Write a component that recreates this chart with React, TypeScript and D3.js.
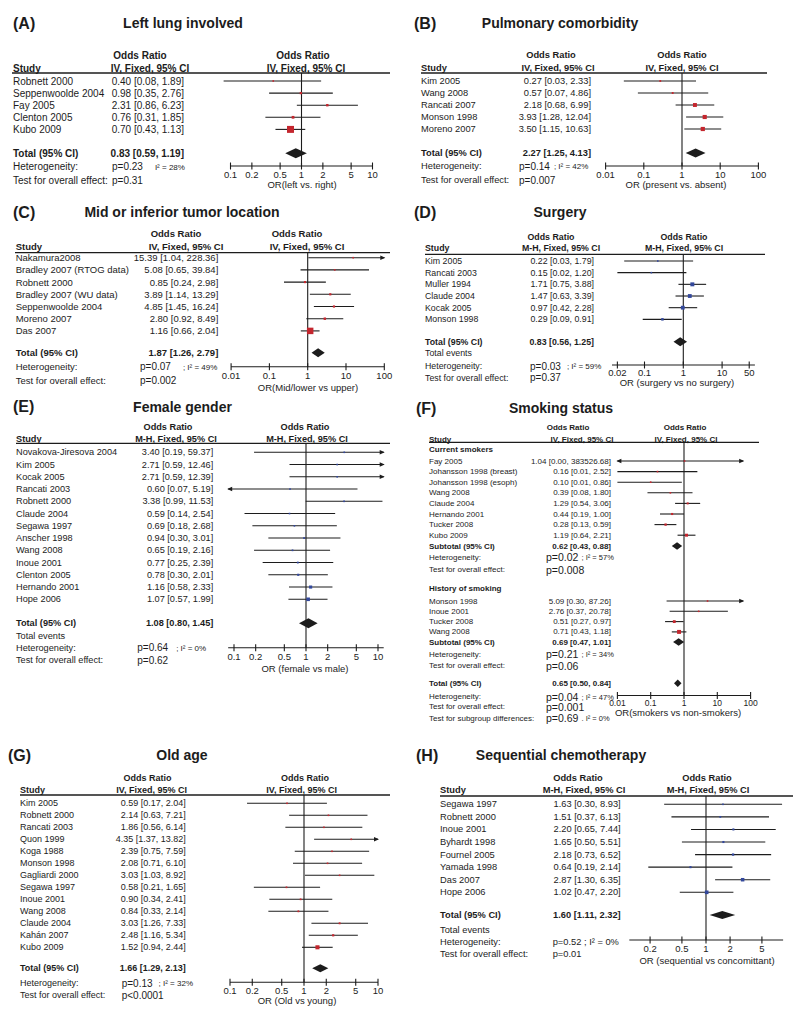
import React from "react";
import * as d3 from "d3";

const FONT = "'Liberation Sans', Arial, Helvetica, sans-serif";
const INK = "#1c1c1c";
const RED = "#c4262e";
const BLUE = "#33489c";

// ---------------- DATA ----------------
// (A) Left lung involved
const studiesA = ["Robnett 2000", "Seppenwoolde 2004", "Fay 2005", "Clenton 2005", "Kubo 2009"];
const orA = [0.4, 0.98, 2.31, 0.76, 0.7];
const loA = [0.08, 0.35, 0.86, 0.31, 0.43];
const hiA = [1.89, 2.76, 6.23, 1.85, 1.13];
const totalA = [0.83, 0.59, 1.19];
const hetA = ["p=0.23", "I\u00b2 = 28%"];
const testA = "p=0.31";
const ticksA = [0.1, 0.2, 0.5, 1, 2, 5, 10];

// (B) Pulmonary comorbidity
const studiesB = ["Kim 2005", "Wang 2008", "Rancati 2007", "Monson 1998", "Moreno 2007"];
const orB = [0.27, 0.57, 2.18, 3.93, 3.5];
const loB = [0.03, 0.07, 0.68, 1.28, 1.15];
const hiB = [2.33, 4.86, 6.99, 12.04, 10.63];
const totalB = [2.27, 1.25, 4.13];
const hetB = ["p=0.14", "; I\u00b2 = 42%"];
const testB = "p=0.007";
const ticksB = [0.01, 0.1, 1, 10, 100];

// (C) Mid or inferior tumor location
const studiesC = ["Nakamura2008", "Bradley 2007 (RTOG data)", "Robnett 2000", "Bradley 2007 (WU data)", "Seppenwoolde 2004", "Moreno 2007", "Das 2007"];
const orC = [15.39, 5.08, 0.85, 3.89, 4.85, 2.8, 1.16];
const loC = [1.04, 0.65, 0.24, 1.14, 1.45, 0.92, 0.66];
const hiC = [228.36, 39.84, 2.98, 13.29, 16.24, 8.49, 2.04];
const totalC = [1.87, 1.26, 2.79];
const hetC = ["p=0.07", "; I\u00b2 = 49%"];
const testC = "p=0.002";
const ticksC = [0.01, 0.1, 1, 10, 100];

// (D) Surgery
const studiesD = ["Kim 2005", "Rancati 2003", "Muller 1994", "Claude 2004", "Kocak 2005", "Monson 1998"];
const orD = [0.22, 0.15, 1.71, 1.47, 0.97, 0.29];
const loD = [0.03, 0.02, 0.75, 0.63, 0.42, 0.09];
const hiD = [1.79, 1.2, 3.88, 3.39, 2.28, 0.91];
const totalD = [0.83, 0.56, 1.25];
const hetD = ["p=0.03", "; I\u00b2 = 59%"];
const testD = "p=0.37";
const ticksD = [0.02, 0.1, 1, 10, 50];

// (E) Female gender
const studiesE = ["Novakova-Jiresova 2004", "Kim 2005", "Kocak 2005", "Rancati 2003", "Robnett 2000", "Claude 2004", "Segawa 1997", "Anscher 1998", "Wang 2008", "Inoue 2001", "Clenton 2005", "Hernando 2001", "Hope 2006"];
const orE = [3.4, 2.71, 2.71, 0.6, 3.38, 0.59, 0.69, 0.94, 0.65, 0.77, 0.78, 1.16, 1.07];
const loE = [0.19, 0.59, 0.59, 0.07, 0.99, 0.14, 0.18, 0.3, 0.19, 0.25, 0.3, 0.58, 0.57];
const hiE = [59.37, 12.46, 12.39, 5.19, 11.53, 2.54, 2.68, 3.01, 2.16, 2.39, 2.01, 2.33, 1.99];
const totalE = [1.08, 0.8, 1.45];
const hetE = ["p=0.64", "; I\u00b2 = 0%"];
const testE = "p=0.62";
const ticksE = [0.1, 0.2, 0.5, 1, 2, 5, 10];

// (F) Smoking status
const studiesF1 = ["Fay 2005", "Johansson 1998 (breast)", "Johansson 1998 (esoph)", "Wang 2008", "Claude 2004", "Hernando 2001", "Tucker 2008", "Kubo 2009"];
const orF1 = [1.04, 0.16, 0.1, 0.39, 1.29, 0.44, 0.28, 1.19];
const loF1 = [0.0, 0.01, 0.01, 0.08, 0.54, 0.19, 0.13, 0.64];
const hiF1 = [383526.68, 2.52, 0.86, 1.8, 3.06, 1.0, 0.59, 2.21];
const subF1 = [0.62, 0.43, 0.88];
const hetF1 = ["p=0.02", " ; I\u00b2 = 57%"];
const testF1 = "p=0.008";
const studiesF2 = ["Monson 1998", "Inoue 2001", "Tucker 2008", "Wang 2008"];
const orF2 = [5.09, 2.76, 0.51, 0.71];
const loF2 = [0.3, 0.37, 0.27, 0.43];
const hiF2 = [87.26, 20.78, 0.97, 1.18];
const subF2 = [0.69, 0.47, 1.01];
const hetF2 = ["p=0.21", " ; I\u00b2 = 34%"];
const testF2 = "p=0.06";
const totalF = [0.65, 0.5, 0.84];
const hetF = ["p=0.04", " ; I\u00b2 = 47%"];
const testF = "p=0.001";
const subgroupF = ["p=0.69", " . I\u00b2 = 0%"];
const ticksF = [0.01, 0.1, 1, 10, 100];

// (G) Old age
const studiesG = ["Kim 2005", "Robnett 2000", "Rancati 2003", "Quon 1999", "Koga 1988", "Monson 1998", "Gagliardi 2000", "Segawa 1997", "Inoue 2001", "Wang 2008", "Claude 2004", "Kah\u00e1n 2007", "Kubo 2009"];
const orG = [0.59, 2.14, 1.86, 4.35, 2.39, 2.08, 3.03, 0.58, 0.9, 0.84, 3.03, 2.48, 1.52];
const loG = [0.17, 0.63, 0.56, 1.37, 0.75, 0.71, 1.03, 0.21, 0.34, 0.33, 1.26, 1.16, 0.94];
const hiG = [2.04, 7.21, 6.14, 13.82, 7.59, 6.1, 8.92, 1.65, 2.41, 2.14, 7.33, 5.34, 2.44];
const totalG = [1.66, 1.29, 2.13];
const hetG = ["p=0.13", "; I\u00b2 = 32%"];
const testG = "p<0.0001";
const ticksG = [0.1, 0.2, 0.5, 1, 2, 5, 10];

// (H) Sequential chemotherapy
const studiesH = ["Segawa 1997", "Robnett 2000", "Inoue 2001", "Byhardt 1998", "Fournel 2005", "Yamada 1998", "Das 2007", "Hope 2006"];
const orH = [1.63, 1.51, 2.2, 1.65, 2.18, 0.64, 2.87, 1.02];
const loH = [0.3, 0.37, 0.65, 0.5, 0.73, 0.19, 1.3, 0.47];
const hiH = [8.93, 6.13, 7.44, 5.51, 6.52, 2.14, 6.35, 2.2];
const totalH = [1.6, 1.11, 2.32];
const hetH = ["p=0.52", " ; I\u00b2 = 0%"];
const testH = "p=0.01";
const ticksH = [0.2, 0.5, 1, 2, 5];

// ---------------- TYPES / BUILDERS ----------------
type Study = { name: string; or: number; lo: number; hi: number };
type Item =
  | { k: "study"; s: Study; y: number }
  | { k: "head"; text: string; y: number }
  | { k: "pool"; label: string; est: number[]; y: number }
  | { k: "stat"; label: string; p: string; i2?: string; y: number }
  | { k: "text"; text: string; y: number };

function zip(names: string[], or: number[], lo: number[], hi: number[]): Study[] {
  return names.map((n, i) => ({ name: n, or: or[i], lo: lo[i], hi: hi[i] }));
}

function standardItems(
  studies: Study[],
  total: number[],
  het: string[],
  test: string,
  L: { y0: number; dy: number; totalY: number; eventsY?: number; hetY: number; testY: number }
): Item[] {
  const ys = d3.scaleLinear().domain([0, 1]).range([L.y0, L.y0 + L.dy]);
  const items: Item[] = studies.map((s, i) => ({ k: "study", s, y: ys(i) } as Item));
  items.push({ k: "pool", label: "Total (95% CI)", est: total, y: L.totalY });
  if (L.eventsY) items.push({ k: "text", text: "Total events", y: L.eventsY });
  items.push({ k: "stat", label: "Heterogeneity:", p: het[0], i2: het[1], y: L.hetY });
  items.push({ k: "stat", label: "Test for overall effect:", p: test, y: L.testY });
  return items;
}

function smokingItems(): Item[] {
  const ys1 = d3.scaleLinear().domain([0, 1]).range([461, 471.6]);
  const ys2 = d3.scaleLinear().domain([0, 1]).range([601, 611.3]);
  const items: Item[] = [];
  items.push({ k: "head", text: "Current smokers", y: 449.3 });
  zip(studiesF1, orF1, loF1, hiF1).forEach((s, i) => items.push({ k: "study", s, y: ys1(i) }));
  items.push({ k: "pool", label: "Subtotal (95% CI)", est: subF1, y: 546 });
  items.push({ k: "stat", label: "Heterogeneity:", p: hetF1[0], i2: hetF1[1], y: 557.3 });
  items.push({ k: "stat", label: "Test for overall effect:", p: testF1, y: 569.5 });
  items.push({ k: "head", text: "History of smoking", y: 588.3 });
  zip(studiesF2, orF2, loF2, hiF2).forEach((s, i) => items.push({ k: "study", s, y: ys2(i) }));
  items.push({ k: "pool", label: "Subtotal (95% CI)", est: subF2, y: 642 });
  items.push({ k: "stat", label: "Heterogeneity:", p: hetF2[0], i2: hetF2[1], y: 654 });
  items.push({ k: "stat", label: "Test for overall effect:", p: testF2, y: 665.7 });
  items.push({ k: "pool", label: "Total (95% CI)", est: totalF, y: 683.3 });
  items.push({ k: "stat", label: "Heterogeneity:", p: hetF[0], i2: hetF[1], y: 696.5 });
  items.push({ k: "stat", label: "Test for overall effect:", p: testF, y: 706.7 });
  items.push({ k: "stat", label: "Test for subgroup differences:", p: subgroupF[0], i2: subgroupF[1], y: 718.3 });
  return items;
}

type Axis = {
  center: number; decade: number; lineMin: number; lineMax: number; clipMin: number; clipMax: number;
  y: number; ticks: number[]; tickY: number; tickFs: number; label: string; labelX: number; labelY: number;
};
type Cfg = {
  tag: string; tagX: number; title: string; titleX: number; titleY: number;
  fs: number; pfs: number; ifs: number; i2dx: number; method: string;
  hdrY1: number; hdrY2: number; c2h1: number; c2h2: number; c3h1: number; c3h2: number;
  lineY: number; lineX1: number; lineX2: number; col1X: number; col2R: number; pX: number;
  dh: number; color: string; axis: Axis; items: Item[];
};

const fmt = (v: number) => v.toFixed(2);
const ciText = (a: number, b: number, c: number) => `${fmt(a)} [${fmt(b)}, ${fmt(c)}]`;

const panels: Cfg[] = [
  {
    tag: "(A)", tagX: 13, title: "Left lung involved", titleX: 183, titleY: 23,
    fs: 10, pfs: 10, ifs: 8, i2dx: 12, method: "IV, Fixed, 95% CI",
    hdrY1: 55, hdrY2: 68, c2h1: 140, c2h2: 150, c3h1: 303, c3h2: 306,
    lineY: 73, lineX1: 12, lineX2: 390, col1X: 13, col2R: 184, pX: 112, dh: 5, color: RED,
    axis: { center: 301.5, decade: 71, lineMin: 0.1, lineMax: 10, clipMin: 0.06, clipMax: 12, y: 166, ticks: ticksA, tickY: 174.5, tickFs: 9.5, label: "OR(left vs. right)", labelX: 302, labelY: 184 },
    items: standardItems(zip(studiesA, orA, loA, hiA), totalA, hetA, testA, { y0: 81, dy: 12.1, totalY: 153.3, hetY: 166.7, testY: 180 }),
  },
  {
    tag: "(B)", tagX: 414, title: "Pulmonary comorbidity", titleX: 560, titleY: 23,
    fs: 9.3, pfs: 10, ifs: 8, i2dx: 4, method: "IV, Fixed, 95% CI",
    hdrY1: 55, hdrY2: 68, c2h1: 551, c2h2: 558, c3h1: 682, c3h2: 682,
    lineY: 73, lineX1: 421, lineX2: 767, col1X: 421, col2R: 591, pX: 519, dh: 4.5, color: RED,
    axis: { center: 682, decade: 38.2, lineMin: 0.01, lineMax: 100, clipMin: 0.01, clipMax: 100, y: 166, ticks: ticksB, tickY: 174, tickFs: 9.5, label: "OR (present vs. absent)", labelX: 676, labelY: 184 },
    items: standardItems(zip(studiesB, orB, loB, hiB), totalB, hetB, testB, { y0: 81, dy: 12, totalY: 153, hetY: 166, testY: 180 }),
  },
  {
    tag: "(C)", tagX: 13, title: "Mid or inferior tumor location", titleX: 182, titleY: 212,
    fs: 9.5, pfs: 10, ifs: 8, i2dx: 12, method: "IV, Fixed, 95% CI",
    hdrY1: 233.3, hdrY2: 246.7, c2h1: 176, c2h2: 186, c3h1: 297, c3h2: 307,
    lineY: 252.7, lineX1: 15, lineX2: 390, col1X: 15.7, col2R: 218.3, pX: 140, dh: 4.5, color: RED,
    axis: { center: 307.7, decade: 38.3, lineMin: 0.01, lineMax: 100, clipMin: 0.01, clipMax: 100, y: 366.7, ticks: ticksC, tickY: 375, tickFs: 9.5, label: "OR(Mid/lower vs upper)", labelX: 308, labelY: 387 },
    items: standardItems(zip(studiesC, orC, loC, hiC), totalC, hetC, testC, { y0: 257.7, dy: 12.2, totalY: 352.7, hetY: 366.7, testY: 380 }),
  },
  {
    tag: "(D)", tagX: 414, title: "Surgery", titleX: 560, titleY: 212,
    fs: 8.8, pfs: 10, ifs: 8, i2dx: 6, method: "M-H, Fixed, 95% CI",
    hdrY1: 236.7, hdrY2: 248.3, c2h1: 551, c2h2: 561, c3h1: 684, c3h2: 684,
    lineY: 254.3, lineX1: 425, lineX2: 765, col1X: 425, col2R: 594, pX: 530, dh: 4.5, color: BLUE,
    axis: { center: 683.3, decade: 38.8, lineMin: 0.0145, lineMax: 70, clipMin: 0.0145, clipMax: 70, y: 365, ticks: ticksD, tickY: 372, tickFs: 9.5, label: "OR (surgery vs no surgery)", labelX: 677, labelY: 382 },
    items: standardItems(zip(studiesD, orD, loD, hiD), totalD, hetD, testD, { y0: 261, dy: 11.67, totalY: 341.7, eventsY: 353.3, hetY: 366, testY: 377.7 }),
  },
  {
    tag: "(E)", tagX: 13, title: "Female gender", titleX: 182.5, titleY: 406.7,
    fs: 9.2, pfs: 10, ifs: 8, i2dx: 8, method: "M-H, Fixed, 95% CI",
    hdrY1: 426.7, hdrY2: 439, c2h1: 168, c2h2: 176, c3h1: 305, c3h2: 307,
    lineY: 443.3, lineX1: 16, lineX2: 390, col1X: 16, col2R: 213.3, pX: 137.3, dh: 5, color: BLUE,
    axis: { center: 306, decade: 72, lineMin: 0.083, lineMax: 12, clipMin: 0.083, clipMax: 12, y: 647.7, ticks: ticksE, tickY: 656, tickFs: 9.5, label: "OR (female vs male)", labelX: 305, labelY: 668 },
    items: standardItems(zip(studiesE, orE, loE, hiE), totalE, hetE, testE, { y0: 452.3, dy: 12.25, totalY: 623.3, eventsY: 635.7, hetY: 647.7, testY: 660 }),
  },
  {
    tag: "(F)", tagX: 416, title: "Smoking status", titleX: 561, titleY: 408.3,
    fs: 8, pfs: 10.5, ifs: 7.5, i2dx: 1, method: "IV, Fixed, 95% CI",
    hdrY1: 427.7, hdrY2: 439, c2h1: 568, c2h2: 582, c3h1: 685, c3h2: 686,
    lineY: 442.3, lineX1: 429, lineX2: 759, col1X: 429, col2R: 611, pX: 546, dh: 3.8, color: RED,
    axis: { center: 684, decade: 33.3, lineMin: 0.01, lineMax: 100, clipMin: 0.01, clipMax: 60, y: 695.5, ticks: ticksF, tickY: 702.5, tickFs: 8.5, label: "OR(smokers vs non-smokers)", labelX: 678, labelY: 712 },
    items: smokingItems(),
  },
  {
    tag: "(G)", tagX: 8, title: "Old age", titleX: 182, titleY: 755,
    fs: 9, pfs: 10, ifs: 8, i2dx: 6, method: "IV, Fixed, 95% CI",
    hdrY1: 778.3, hdrY2: 790, c2h1: 147.5, c2h2: 151.7, c3h1: 305, c3h2: 301.7,
    lineY: 795, lineX1: 20, lineX2: 390, col1X: 20, col2R: 185.7, pX: 121.7, dh: 4, color: RED,
    axis: { center: 304, decade: 74, lineMin: 0.1, lineMax: 10, clipMin: 0.1, clipMax: 10, y: 982.3, ticks: ticksG, tickY: 990, tickFs: 9.5, label: "OR (Old vs young)", labelX: 297, labelY: 1000 },
    items: standardItems(zip(studiesG, orG, loG, hiG), totalG, hetG, testG, { y0: 803.3, dy: 12, totalY: 968.3, hetY: 983.3, testY: 995 }),
  },
  {
    tag: "(H)", tagX: 416, title: "Sequential chemotherapy", titleX: 561, titleY: 755,
    fs: 9.3, pfs: 9.3, ifs: 9.3, i2dx: 0, method: "M-H, Fixed, 95% CI",
    hdrY1: 778.3, hdrY2: 790, c2h1: 578, c2h2: 584, c3h1: 707, c3h2: 708,
    lineY: 796, lineX1: 440, lineX2: 793, col1X: 440, col2R: 620.7, pX: 552.7, dh: 4, color: BLUE,
    axis: { center: 706, decade: 80, lineMin: 0.11, lineMax: 9.2, clipMin: 0.1, clipMax: 10, y: 940, ticks: ticksH, tickY: 948.5, tickFs: 9.5, label: "OR (sequential vs concomittant)", labelX: 707, labelY: 960 },
    items: standardItems(zip(studiesH, orH, loH, hiH), totalH, hetH, testH, { y0: 804.3, dy: 12.57, totalY: 915, eventsY: 930, hetY: 942.3, testY: 954 }),
  },
];

// ---------------- RENDER ----------------
function Panel({ c }: { c: Cfg }) {
  const ax = c.axis;
  const pos = (v: number) => ax.center + ax.decade * Math.log10(v);
  const x = d3.scaleLog().domain([ax.lineMin, ax.lineMax]).range([pos(ax.lineMin), pos(ax.lineMax)]);
  const studies = c.items.filter((it) => it.k === "study") as { k: "study"; s: Study; y: number }[];
  const ws = studies.map((it) => (it.s.lo > 0 ? (3.92 / (Math.log(it.s.hi) - Math.log(it.s.lo))) ** 2 : 0));
  const wsum = d3.sum(ws);
  const sizeScale = d3.scaleLinear().domain([0, 1]).range([1, 12]);
  const t = { fontFamily: FONT, fill: INK, dominantBaseline: "central" as const };
  const x1 = x(1);
  let si = 0;

  return (
    <g>
      <text {...t} x={c.tagX} y={c.titleY} fontSize={16} fontWeight="bold">{c.tag}</text>
      <text {...t} x={c.titleX} y={c.titleY} fontSize={14} fontWeight="bold" textAnchor="middle">{c.title}</text>
      <text {...t} x={c.c2h1} y={c.hdrY1} fontSize={c.fs} fontWeight="bold" textAnchor="middle">Odds Ratio</text>
      <text {...t} x={c.c2h2} y={c.hdrY2} fontSize={c.fs} fontWeight="bold" textAnchor="middle">{c.method}</text>
      <text {...t} x={c.c3h1} y={c.hdrY1} fontSize={c.fs} fontWeight="bold" textAnchor="middle">Odds Ratio</text>
      <text {...t} x={c.c3h2} y={c.hdrY2} fontSize={c.fs} fontWeight="bold" textAnchor="middle">{c.method}</text>
      <text {...t} x={c.col1X} y={c.hdrY2} fontSize={c.fs} fontWeight="bold">Study</text>
      <line x1={c.lineX1} x2={c.lineX2} y1={c.lineY} y2={c.lineY} stroke={INK} strokeWidth={1.3} />
      {/* null line */}
      <line x1={x1} x2={x1} y1={c.lineY} y2={ax.y} stroke={INK} strokeWidth={1.1} />
      {/* axis */}
      <line x1={x(ax.lineMin)} x2={x(ax.lineMax)} y1={ax.y} y2={ax.y} stroke={INK} strokeWidth={1.1} />
      {ax.ticks.map((v) => (
        <g key={"t" + v}>
          <line x1={x(v)} x2={x(v)} y1={ax.y - 3.5} y2={ax.y + 3.5} stroke={INK} strokeWidth={1.1} />
          <text {...t} x={x(v)} y={ax.tickY} fontSize={ax.tickFs} textAnchor="middle">{String(v)}</text>
        </g>
      ))}
      <text {...t} x={ax.labelX} y={ax.labelY} fontSize={9.5} textAnchor="middle">{ax.label}</text>

      {c.items.map((it, i) => {
        if (it.k === "study") {
          const s = it.s;
          const w = ws[si++] / wsum;
          const sz = Math.max(1.6, sizeScale(w));
          const lo = Math.max(s.lo, ax.clipMin);
          const hi = Math.min(s.hi, ax.clipMax);
          const xl = x(lo);
          const xh = x(hi);
          const y = it.y;
          return (
            <g key={i}>
              <text {...t} x={c.col1X} y={y} fontSize={c.fs}>{s.name}</text>
              <text {...t} x={c.col2R} y={y} fontSize={c.fs} textAnchor="end">{ciText(s.or, s.lo, s.hi)}</text>
              <line x1={xl} x2={xh} y1={y} y2={y} stroke={INK} strokeWidth={1.1} />
              {s.lo < ax.clipMin && <polygon points={`${xl - 1},${y} ${xl + 4},${y - 2.3} ${xl + 4},${y + 2.3}`} fill={INK} />}
              {s.hi > ax.clipMax && <polygon points={`${xh + 1},${y} ${xh - 4},${y - 2.3} ${xh - 4},${y + 2.3}`} fill={INK} />}
              <rect x={x(s.or) - sz / 2} y={y - sz / 2} width={sz} height={sz} fill={c.color} />
            </g>
          );
        }
        if (it.k === "pool") {
          const [e, l, h] = it.est;
          const y = it.y;
          return (
            <g key={i}>
              <text {...t} x={c.col1X} y={y} fontSize={c.fs} fontWeight="bold">{it.label}</text>
              <text {...t} x={c.col2R} y={y} fontSize={c.fs} fontWeight="bold" textAnchor="end">{ciText(e, l, h)}</text>
              <polygon points={`${x(l)},${y} ${x(e)},${y - c.dh} ${x(h)},${y} ${x(e)},${y + c.dh}`} fill={INK} />
            </g>
          );
        }
        if (it.k === "head") {
          return <text key={i} {...t} x={c.col1X} y={it.y} fontSize={c.fs} fontWeight="bold">{it.text}</text>;
        }
        if (it.k === "text") {
          return <text key={i} {...t} x={c.col1X} y={it.y} fontSize={c.fs}>{it.text}</text>;
        }
        return (
          <g key={i}>
            <text {...t} x={c.col1X} y={it.y} fontSize={c.fs}>{it.label}</text>
            <text {...t} x={c.pX} y={it.y} fontSize={c.pfs} style={{ whiteSpace: "pre" }}>
              {it.p}
              {it.i2 && (
                <tspan dx={c.i2dx} fontSize={c.ifs}>{it.i2}</tspan>
              )}
            </text>
          </g>
        );
      })}
    </g>
  );
}

export default function App() {
  return (
    <svg
      width={800}
      height={1016}
      viewBox="0 0 800 1016"
      style={{ position: "absolute", left: 0, top: 0, display: "block", background: "#fff" }}
    >
      <rect x={0} y={0} width={800} height={1016} fill="#fff" />
      {panels.map((c) => (
        <Panel key={c.tag} c={c} />
      ))}
    </svg>
  );
}
